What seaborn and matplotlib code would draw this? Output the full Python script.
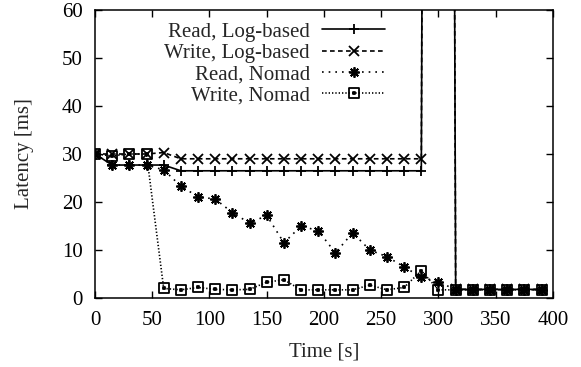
import numpy as np
import matplotlib
matplotlib.use("Agg")
import matplotlib.pyplot as plt
from matplotlib.path import Path
import seaborn as sns

# sample times [s], one every 15 s
time_s = [0, 15, 30, 45, 60, 75, 90, 105, 120, 135, 150, 165, 180, 195,
          210, 225, 240, 255, 270, 285, 300, 315, 330, 345, 360, 375, 390]

# latency [ms]; the log-based runs spike far off the chart at 300 s
read_log = [30.0, 27.7, 27.7, 27.7, 27.7, 26.5, 26.5, 26.5, 26.5, 26.5,
            26.5, 26.5, 26.5, 26.5, 26.5, 26.5, 26.5, 26.5, 26.5, 26.5,
            1000.0, 1.8, 1.8, 1.8, 1.8, 1.8, 1.8]
write_log = [30.0, 30.0, 30.0, 30.0, 30.3, 29.0, 29.0, 29.0, 29.0, 29.0,
             29.0, 29.0, 29.0, 29.0, 29.0, 29.0, 29.0, 29.0, 29.0, 29.0,
             1000.0, 1.8, 1.8, 1.8, 1.8, 1.8, 1.8]
read_nomad = [30.0, 27.7, 27.7, 27.7, 26.7, 23.3, 21.1, 20.6, 17.8, 15.6,
              17.2, 11.5, 15.0, 14.0, 9.4, 13.6, 10.0, 8.6, 6.5, 4.3,
              3.4, 1.7, 1.7, 1.7, 1.7, 1.7, 1.7]
write_nomad = [30.0, 29.6, 30.0, 30.0, 2.0, 1.7, 2.2, 1.8, 1.7, 1.8,
               3.3, 3.8, 1.7, 1.7, 1.7, 1.7, 2.7, 1.7, 2.2, 5.7,
               1.7, 1.7, 1.7, 1.7, 1.7, 1.7, 1.7]

series_labels = ["Read, Log-based", "Write, Log-based", "Read, Nomad", "Write, Nomad"]
x_ticks = [0, 50, 100, 150, 200, 250, 300, 350, 400]
y_ticks = [0, 10, 20, 30, 40, 50, 60]

# gnuplot-ish square with a dot in the middle
sq_dot = Path(
    [(-1, -1), (1, -1), (1, 1), (-1, 1), (-1, -1),
     (-0.12, -0.12), (0.12, -0.12), (0.12, 0.12), (-0.12, 0.12), (-0.12, -0.12)],
    [Path.MOVETO, Path.LINETO, Path.LINETO, Path.LINETO, Path.CLOSEPOLY] * 2,
)

FS = 15

sns.set_style("ticks")
plt.rcParams["font.family"] = ["Liberation Serif", "DejaVu Serif"]
plt.rcParams["font.size"] = FS

fig = plt.figure(figsize=(5.81, 3.67), dpi=100)
ax = fig.add_axes([0.1635, 0.188, 0.7883, 0.7848])

styles = [
    dict(linestyle="-", marker="+", markersize=7.5),
    dict(linestyle=(0, (2.8, 2.0)), marker="x", markersize=6.5),
    dict(linestyle=(0, (1.0, 3.0)), marker=(8, 2, 0), markersize=7.5),
    dict(linestyle=(0, (0.8, 1.2)), marker=sq_dot, markersize=7, mfc="none"),
]
values = [read_log, write_log, read_nomad, write_nomad]

for vals, lab, st in zip(values, series_labels, styles):
    sns.lineplot(x=time_s, y=vals, ax=ax, color="black", label=lab,
                 linewidth=1.2, markeredgewidth=1.3, markeredgecolor="black",
                 **st)

ax.set_xlim(0, 400)
ax.set_ylim(0, 60)
ax.set_xticks(x_ticks)
ax.set_yticks(y_ticks)
ax.tick_params(direction="in", top=True, right=True, length=5, width=1.0,
               pad=9, labelsize=FS, colors="black")
for sp in ax.spines.values():
    sp.set_linewidth(1.1)
    sp.set_color("black")

ax.set_xlabel("Time [s]", fontsize=FS, labelpad=9)
ax.set_ylabel("Latency [ms]", fontsize=FS, labelpad=20)

leg = ax.legend(loc="upper right", bbox_to_anchor=(0.633, 0.958),
                markerfirst=False, frameon=False, handlelength=3.0,
                handletextpad=0.6, labelspacing=0.08, borderpad=0,
                borderaxespad=0, fontsize=FS)

fig.savefig("out.png", dpi=100)
